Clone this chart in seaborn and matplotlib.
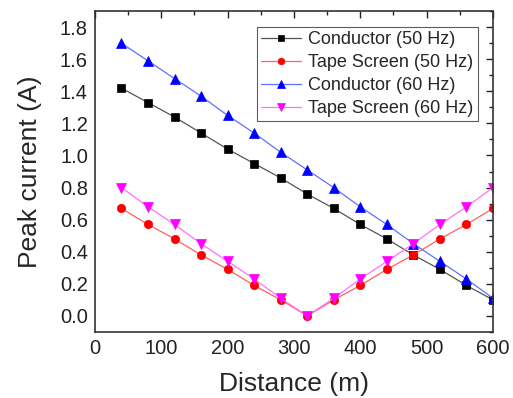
import matplotlib
matplotlib.use("Agg")
import matplotlib.pyplot as plt
import seaborn as sns
import pandas as pd
from matplotlib.ticker import MultipleLocator

distance = [40, 80, 120, 160, 200, 240, 280, 320, 360, 400, 440, 480, 520, 560, 600]
cond_50 = [1.42, 1.33, 1.24, 1.14, 1.04, 0.95, 0.86, 0.76, 0.67, 0.57, 0.48, 0.38, 0.29, 0.19, 0.10]
tape_50 = [0.67, 0.57, 0.48, 0.38, 0.29, 0.19, 0.10, 0.0, 0.10, 0.19, 0.29, 0.38, 0.48, 0.57, 0.67]
cond_60 = [1.70, 1.59, 1.48, 1.37, 1.25, 1.14, 1.02, 0.91, 0.80, 0.68, 0.57, 0.45, 0.34, 0.23, 0.11]
tape_60 = [0.80, 0.68, 0.57, 0.45, 0.34, 0.23, 0.11, 0.0, 0.11, 0.23, 0.34, 0.45, 0.57, 0.68, 0.80]
labels = ["Conductor (50 Hz)", "Tape Screen (50 Hz)", "Conductor (60 Hz)", "Tape Screen (60 Hz)"]
yticks = [0.0, 0.2, 0.4, 0.6, 0.8, 1.0, 1.2, 1.4, 1.6, 1.8]

sns.set_style("white")
plt.rcParams['font.family'] = ['Liberation Sans', 'DejaVu Sans']

fig = plt.figure(figsize=(5.13, 3.98), dpi=100)
ax = fig.add_axes([0.185, 0.166, 0.776, 0.806])

series = [cond_50, tape_50, cond_60, tape_60]
marker_colors = ["black", "red", "blue", "magenta"]
line_colors = ["#555555", "#ff6060", "#6070ff", "#ff70ff"]
markers = ["s", "o", "^", "v"]
msizes = [5.5, 6.0, 6.5, 6.5]

for lab, vals, mc, lc, mk, ms in zip(labels, series, marker_colors, line_colors, markers, msizes):
    df = pd.DataFrame({"Distance": distance, "Current": vals})
    sns.lineplot(data=df, x="Distance", y="Current", ax=ax, color=lc, linewidth=0.9,
                 marker=mk, markersize=ms, markerfacecolor=mc, markeredgecolor=mc,
                 markeredgewidth=0.5, label=lab)

ax.set_xlim(0, 600)
ax.set_ylim(-0.1, 1.9)
ax.xaxis.set_major_locator(MultipleLocator(100))
ax.xaxis.set_minor_locator(MultipleLocator(50))
ax.set_yticks(yticks)
ax.set_yticklabels([f"{v:.1f}" for v in yticks])
ax.yaxis.set_minor_locator(MultipleLocator(0.1))
ax.tick_params(which="both", direction="in", top=True, right=True, labelsize=14.5, width=1,
               colors="#222222")
ax.tick_params(which="major", length=5, pad=5)
ax.tick_params(which="minor", length=3)
for s in ax.spines.values():
    s.set_linewidth(1.2)
    s.set_color("#333333")

ax.set_xlabel("Distance (m)", fontsize=19, labelpad=10)
ax.set_ylabel("Peak current (A)", fontsize=19, labelpad=13)

leg = ax.legend(loc="upper right", bbox_to_anchor=(0.962, 0.952), fontsize=13, frameon=True,
                fancybox=False, edgecolor="#333333", handlelength=2.2, borderpad=0.25,
                labelspacing=0.33, handletextpad=0.4, borderaxespad=0, markerscale=0.8)
leg.get_frame().set_linewidth(0.8)

fig.savefig("out.png", dpi=100)
